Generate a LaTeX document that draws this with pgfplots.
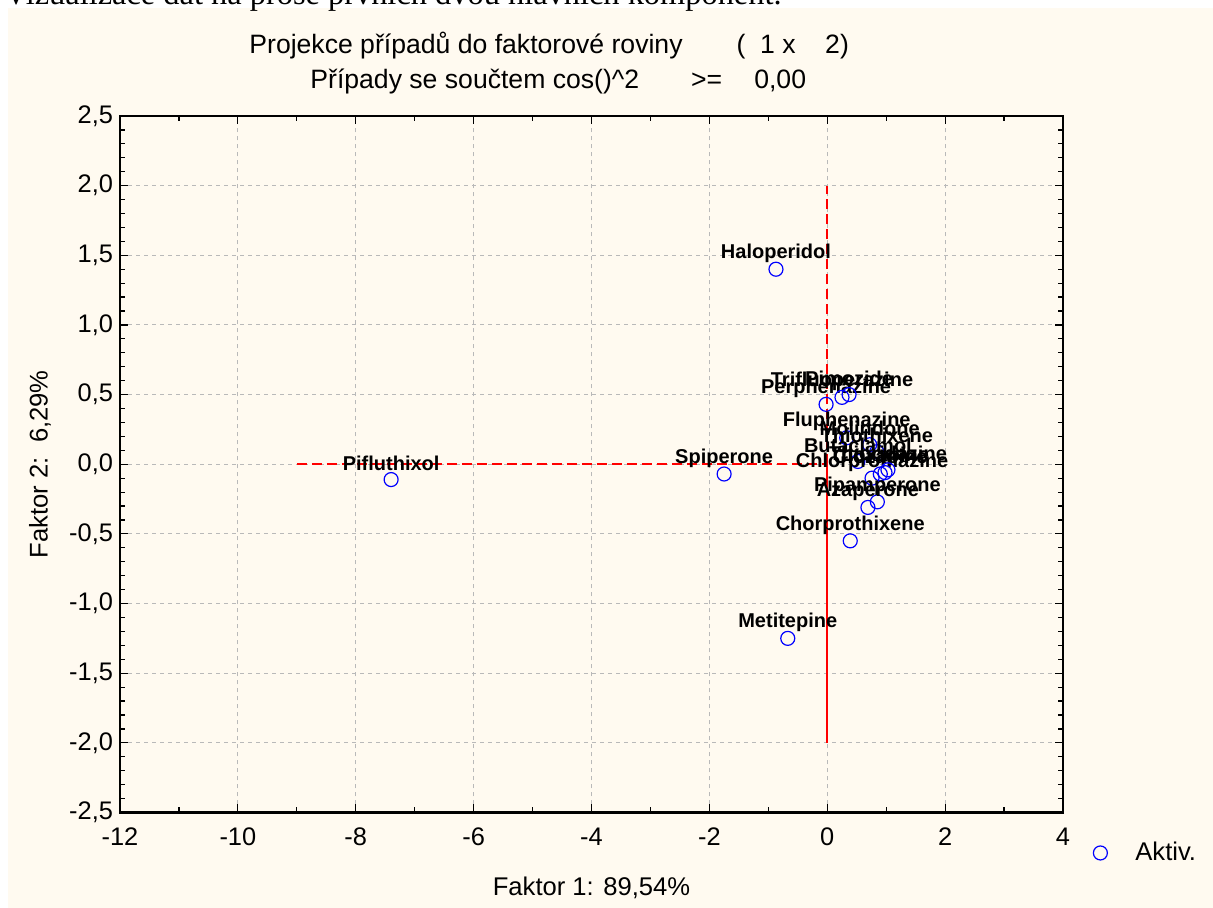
\documentclass[border=0pt]{standalone}
\usepackage{fontspec}
\setmainfont{Liberation Sans}
\newfontfamily\serifcut{Liberation Serif}
\usepackage{pgfplots}
\pgfplotsset{compat=1.18}
\definecolor{cream}{RGB}{255,250,240}
\definecolor{gridgray}{RGB}{185,185,185}

\pgfplotstableread{
x y label
-0.87 1.40 Haloperidol
-7.40 -0.11 Pifluthixol
-1.75 -0.07 Spiperone
-0.67 -1.25 Metitepine
0.39 -0.55 Chorprothixene
-0.02 0.43 Perphenazine
0.25 0.48 Trifluoperazine
0.37 0.50 Pimozide
0.33 0.19 Fluphenazine
0.72 0.14 Molindone
0.84 0.09 Thiothixene
0.52 0.02 Butaclamol
0.76 -0.10 Chlorpromazine
0.90 -0.07 Clozapine
0.98 -0.06 Loxapine
1.03 -0.04 Thioridazine
0.85 -0.27 Pipamperone
0.69 -0.31 Azaperone
}\cases

\begin{document}
\begin{tikzpicture}
\path[use as bounding box] (0,0) rectangle (606.5bp,454bp);
\fill[white] (0,0) rectangle (606.5bp,454bp);
\fill[cream] (4bp,0) rectangle (606.5bp,450bp);
% cut-off caption above the chart
\node[anchor=base west, inner sep=0, font=\serifcut\fontsize{16.2bp}{19bp}\selectfont]
  at (2bp,451.5bp) {Vizualizace dat na prose prvních dvou hlavních komponent.};
% titles
\node[anchor=base west, inner sep=0, font=\fontsize{13.3bp}{16bp}\selectfont]
  at (124.5bp,427bp) {Projekce případů do faktorové roviny\hspace{27bp}(\ \ 1 x \ \ \ 2)};
\node[anchor=base west, inner sep=0, font=\fontsize{13.3bp}{16bp}\selectfont]
  at (155bp,409.5bp) {Případy se součtem cos()\^{}2\hspace{26bp}>=\hspace{16bp}0,00};

\begin{axis}[
  at={(60bp,47.75bp)}, anchor=south west,
  scale only axis, width=471.5bp, height=348.25bp,
  xmin=-12, xmax=4, ymin=-2.5, ymax=2.5,
  xtick={-12,-10,-8,-6,-4,-2,0,2,4}, minor x tick num=1,
  ytick={-2.5,-2,-1.5,-1,-0.5,0,0.5,1,1.5,2,2.5}, minor y tick num=4,
  grid=major,
  major grid style={gridgray, dash pattern=on 2bp off 2bp, line width=0.5bp},
  axis line style={line width=1.3bp},
  tick style={black, line width=0.6bp},
  major tick length=4bp, minor tick length=2.5bp,
  tick align=inside,
  ticklabel style={font=\fontsize{12.7bp}{15bp}\selectfont},
  /pgf/number format/assume math mode=true,
  /pgf/number format/use comma,
  xticklabel style={yshift=-4bp},
  yticklabel style={/pgf/number format/.cd, fixed, fixed zerofill, precision=1, use comma, assume math mode=true},
  xlabel={Faktor 1: 89,54\%},
  ylabel={Faktor 2:\ \ 6,29\%},
  label style={font=\fontsize{12.8bp}{15bp}\selectfont},
  xlabel style={at={(axis description cs:0.5,-0.1084)}, anchor=center},
  ylabel style={at={(axis description cs:-0.0848,0.5)}, anchor=center},
  legend style={at={(axis description cs:1.0318,-0.0581)}, anchor=west,
    draw=none, fill=none, inner sep=0pt,
    font=\fontsize{12.8bp}{15bp}\selectfont},
  legend cell align=left,
]
\addplot[red, line width=1bp, dash pattern=on 5bp off 2.5bp, forget plot]
  coordinates {(-9,0) (0,0)};
\addplot[red, line width=1bp, dash pattern=on 5bp off 2.5bp, forget plot]
  coordinates {(0,0) (0,2)};
\addplot[red, line width=1bp, forget plot]
  coordinates {(0,0) (0,-2)};
\addplot[only marks, mark=o, blue, mark size=3.5bp, mark options={line width=0.6bp},
  nodes near coords, point meta=explicit symbolic,
  every node near coord/.append style={text=black, anchor=center, yshift=8bp,
    inner sep=0pt, font=\bfseries\fontsize{10bp}{12bp}\selectfont}]
  table[x=x, y=y, meta=label] {\cases};
\addlegendentry{\hspace{12bp}Aktiv.}
\end{axis}
\end{tikzpicture}
\end{document}
